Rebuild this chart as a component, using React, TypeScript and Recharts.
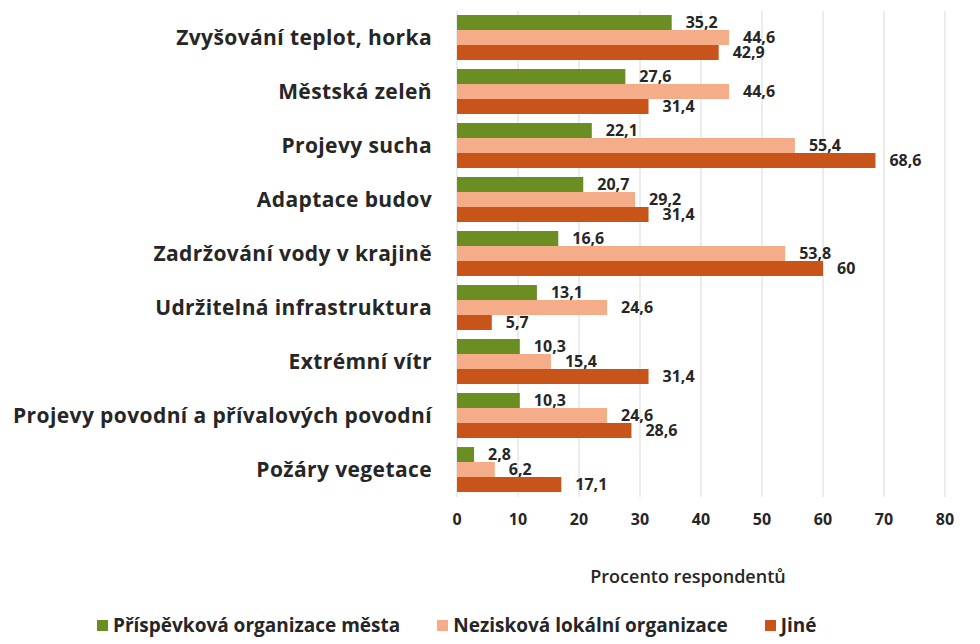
import React from 'react';
import { BarChart, Bar, XAxis, YAxis, CartesianGrid, Legend, LabelList } from 'recharts';

const CATEGORIES = [
  'Zvyšování teplot, horka',
  'Městská zeleň',
  'Projevy sucha',
  'Adaptace budov',
  'Zadržování vody v krajině',
  'Udržitelná infrastruktura',
  'Extrémní vítr',
  'Projevy povodní a přívalových povodní',
  'Požáry vegetace',
];
const PRISPEVKOVA = [35.2, 27.6, 22.1, 20.7, 16.6, 13.1, 10.3, 10.3, 2.8];
const NEZISKOVA = [44.6, 44.6, 55.4, 29.2, 53.8, 24.6, 15.4, 24.6, 6.2];
const JINE = [42.9, 31.4, 68.6, 31.4, 60, 5.7, 31.4, 28.6, 17.1];
const X_TICKS = [0, 10, 20, 30, 40, 50, 60, 70, 80];

const SERIES = [
  { key: 'prispevkova', name: 'Příspěvková organizace města', color: '#6b8e23' },
  { key: 'neziskova', name: 'Nezisková lokální organizace', color: '#f4ad88' },
  { key: 'jine', name: 'Jiné', color: '#c8541a' },
];

const data = CATEGORIES.map((name, i) => ({
  name,
  prispevkova: PRISPEVKOVA[i],
  neziskova: NEZISKOVA[i],
  jine: JINE[i],
}));

const FONT = '"Open Sans", sans-serif';
const fmt = (v: any) => String(v).replace('.', ',');

const LegendContent = () => (
  <div style={{ display: 'flex', alignItems: 'center', height: 28, paddingLeft: 97, fontFamily: FONT, fontSize: 19, fontWeight: 700, color: '#262626' }}>
    {SERIES.map(s => (
      <div key={s.key} style={{ display: 'flex', alignItems: 'center', marginRight: 37 }}>
        <span style={{ width: 11, height: 11, background: s.color, display: 'inline-block', marginRight: 5 }} />
        <span>{s.name}</span>
      </div>
    ))}
  </div>
);

export default function App() {
  return (
    <div style={{ position: 'absolute', left: 0, top: 0, width: 980, height: 644, background: '#fff' }}>
      <BarChart
        width={980}
        height={644}
        data={data}
        layout="vertical"
        margin={{ top: 11, right: 35, left: 0, bottom: 5 }}
        barCategoryGap="7.5%"
        barGap={0}
      >
        <CartesianGrid horizontal={false} stroke="#d9d9d9" />
        <XAxis
          type="number"
          domain={[0, 80]}
          ticks={X_TICKS}
          axisLine={false}
          tickLine={false}
          tickSize={6}
          tickMargin={11}
          height={114}
          tick={{ fontFamily: FONT, fontSize: 16, fontWeight: 700, fill: '#262626' }}
          label={{ value: 'Procento respondentů', position: 'insideTop', offset: 73, dx: -13, fontFamily: FONT, fontSize: 18, fontWeight: 600, fill: '#262626' }}
        />
        <YAxis
          type="category"
          dataKey="name"
          width={457}
          axisLine={false}
          tickLine={false}
          tickSize={6}
          tickMargin={19}
          interval={0}
          tick={{ fontFamily: FONT, fontSize: 21, fontWeight: 700, letterSpacing: 0.4, fill: '#262626' }}
        />
        <Legend verticalAlign="bottom" content={() => <LegendContent />} />
        {SERIES.map(s => (
          <Bar key={s.key} dataKey={s.key} name={s.name} fill={s.color} isAnimationActive={false}>
            <LabelList
              dataKey={s.key}
              position="right"
              offset={14}
              formatter={fmt}
              style={{ fontFamily: FONT, fontSize: 16, fontWeight: 700, fill: '#262626' }}
            />
          </Bar>
        ))}
      </BarChart>
    </div>
  );
}
